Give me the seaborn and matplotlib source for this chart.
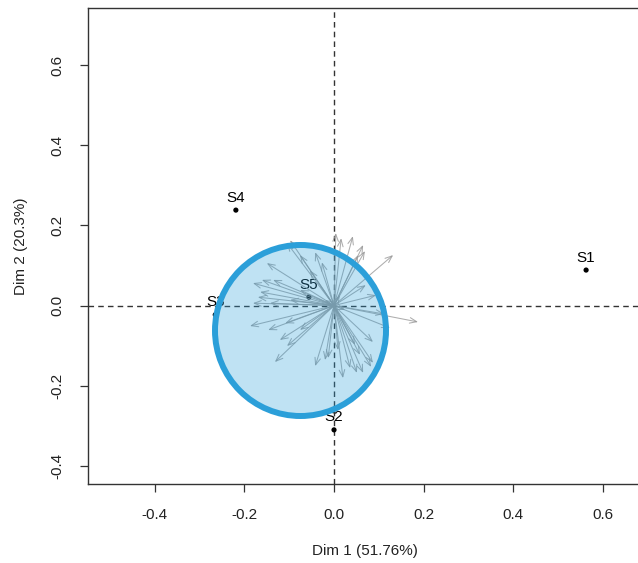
import numpy as np
import pandas as pd
import matplotlib
matplotlib.use("Agg")
import matplotlib.pyplot as plt
import seaborn as sns

# Sample coordinates on the first two dimensions
sample_names = ["S1", "S2", "S3", "S4", "S5"]
sample_dim1 = [0.5625, 0.000, -0.265, -0.219, -0.056]
sample_dim2 = [0.0885, -0.310, -0.023, 0.238, 0.021]

# Variable loadings drawn as arrows from the origin
var_dim1 = [0.004, 0.016, 0.042, 0.065, 0.069, 0.054, 0.132, 0.094, 0.071,
            0.1875, 0.125, 0.112,
            0.087, 0.087, 0.083, 0.065, 0.051, 0.020, 0.036, 0.058, 0.047,
            -0.013, -0.020, -0.042, 0.009,
            -0.132, -0.105, -0.121, -0.109, -0.1875, -0.147, -0.076,
            -0.181, -0.143, -0.170, -0.165, -0.181, -0.161, -0.136, -0.150,
            -0.098, -0.076,
            -0.098, -0.105, -0.076, -0.042, -0.027, -0.054,
            0.013, 0.025, -0.020]
var_dim2 = [0.181, 0.168, 0.173, 0.151, 0.136, 0.126, 0.126, 0.026, 0.051,
            -0.041, -0.056, -0.021,
            -0.091, -0.143, -0.153, -0.168, -0.168, -0.181, -0.156, -0.123, -0.098,
            -0.131, -0.136, -0.151, -0.111,
            -0.141, -0.101, -0.086, -0.044, -0.051, -0.061, -0.061,
            0.006, 0.006, 0.021, 0.034, 0.056, 0.064, 0.064, 0.106,
            0.014, 0.039,
            0.163, 0.156, 0.126, 0.133, 0.108, 0.088,
            0.026, -0.011, 0.014]

# Group centroid shown as a large disc
centroid_dim1 = [-0.077]
centroid_dim2 = [-0.060]

x_ticks = [-0.4, -0.2, 0.0, 0.2, 0.4, 0.6]
y_ticks = [-0.4, -0.2, 0.0, 0.2, 0.4, 0.6]
x_title = "Dim 1 (51.76%)"
y_title = "Dim 2 (20.3%)"

samples = pd.DataFrame({"name": sample_names, "d1": sample_dim1, "d2": sample_dim2})
centroid = pd.DataFrame({"d1": centroid_dim1, "d2": centroid_dim2})

sns.set_style("white")
plt.rcParams["font.family"] = ["Liberation Sans", "DejaVu Sans"]
plt.rcParams["axes.unicode_minus"] = False

fig = plt.figure(figsize=(6.38, 5.63), dpi=100)
ax = fig.add_axes([0.1379, 0.1403, 0.8668, 0.8455])
ax.set_xlim(-0.549, 0.685)
ax.set_ylim(-0.445, 0.742)

# Reference lines through the origin
ax.axhline(0, color="#333333", lw=1, ls=(0, (4, 3)), zorder=1)
ax.axvline(0, color="#333333", lw=1, ls=(0, (4, 3)), zorder=1)

# Sample points and labels
sns.scatterplot(data=samples, x="d1", y="d2", ax=ax, color="black", s=14,
                edgecolor="none", zorder=3, legend=False)
for _, r in samples.iterrows():
    ax.annotate(r["name"], (r["d1"], r["d2"]), xytext=(0, 4),
                textcoords="offset points", ha="center", va="bottom",
                fontsize=11, color="black", zorder=3)

# Variable arrows
for dx, dy in zip(var_dim1, var_dim2):
    ax.annotate("", xy=(dx, dy), xytext=(0, 0),
                arrowprops=dict(arrowstyle="->,head_length=0.5,head_width=0.2",
                                color="#999999", lw=0.75, alpha=0.8,
                                shrinkA=0, shrinkB=0),
                zorder=4)

# Centroid disc: translucent fill with an opaque ring
sns.scatterplot(data=centroid, x="d1", y="d2", ax=ax, s=15160,
                color=(43/255, 159/255, 217/255, 0.3), edgecolor="#2b9fd9",
                linewidth=4.3, zorder=5, legend=False)

ax.set_xticks(x_ticks)
ax.set_yticks(y_ticks)
ax.set_xticklabels([f"{v:.1f}" for v in x_ticks], fontsize=11, color="#222222")
ax.set_yticklabels([f"{v:.1f}" for v in y_ticks], fontsize=11, color="#222222",
                   rotation=90, va="center")
ax.tick_params(axis="both", direction="out", length=6, width=0.9,
               color="#333333", pad=11)
ax.tick_params(axis="both", which="both", bottom=True, left=True)
ax.set_xlabel(x_title, fontsize=11, color="#222222", labelpad=16)
ax.set_ylabel(y_title, fontsize=11, color="#222222", labelpad=16)
for sp in ax.spines.values():
    sp.set_color("#333333")
    sp.set_linewidth(1)
    sp.set_visible(True)

fig.savefig("out.png", dpi=100)
